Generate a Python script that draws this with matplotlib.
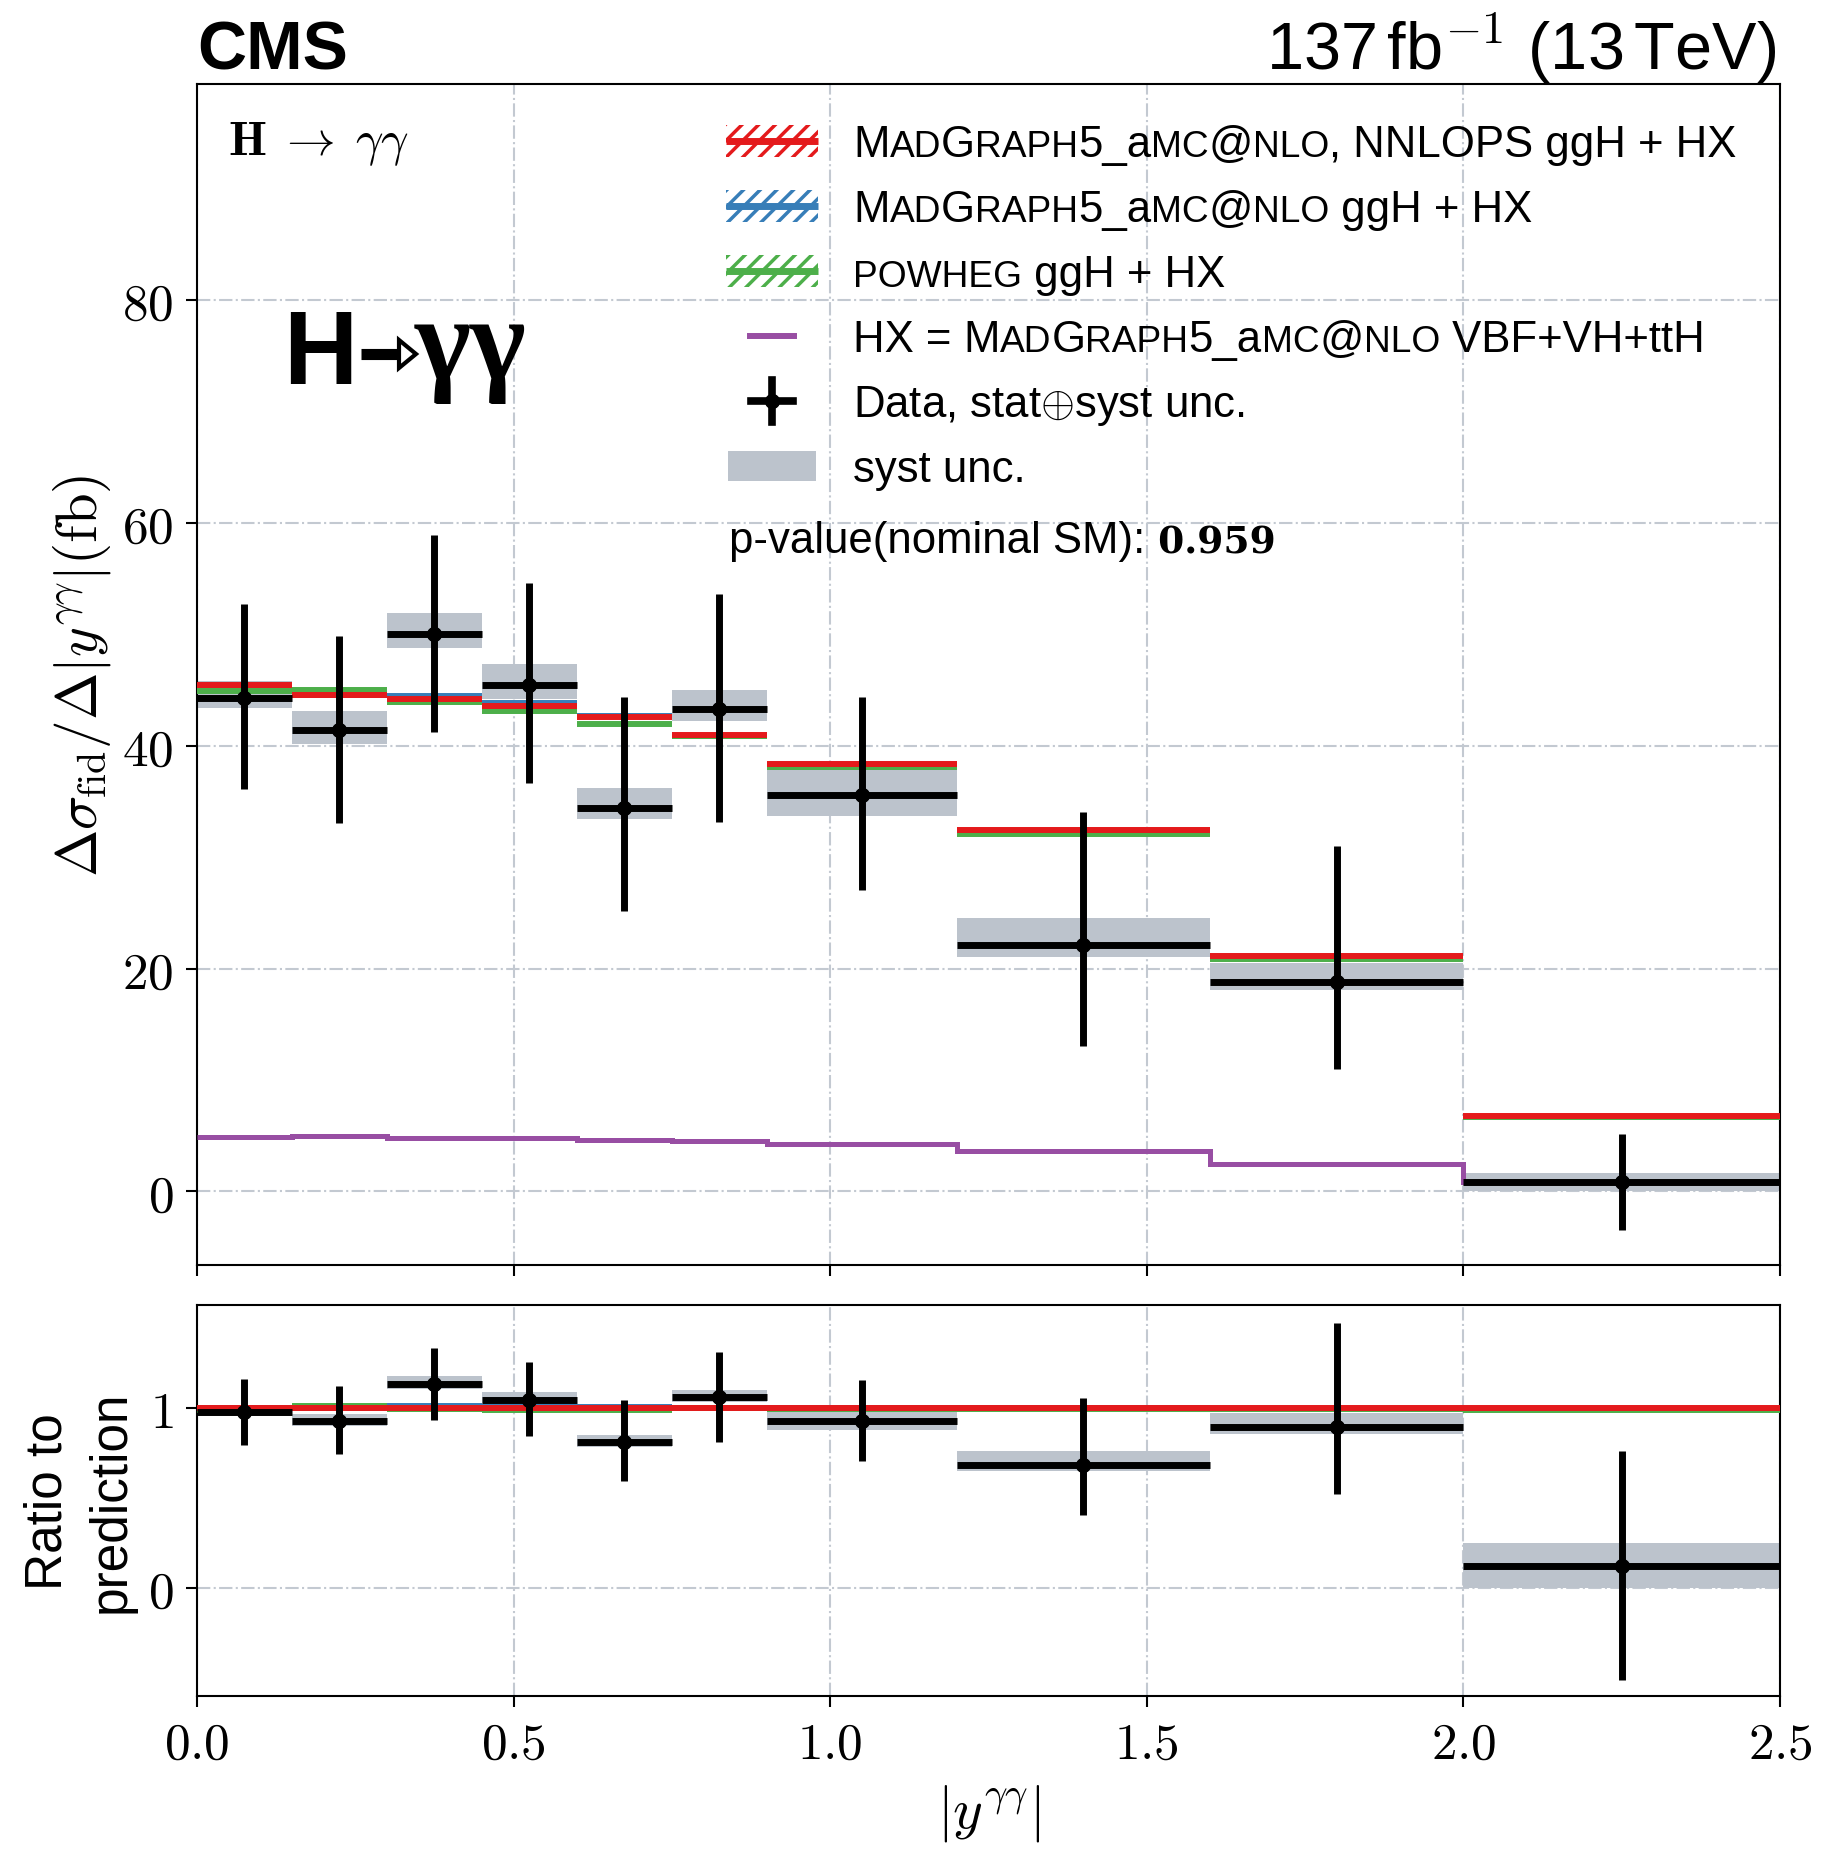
import numpy as np
import matplotlib
matplotlib.use('Agg')
import matplotlib.pyplot as plt
from matplotlib.patches import Rectangle, Polygon
from matplotlib.lines import Line2D
from matplotlib.ticker import FixedLocator, FuncFormatter

plt.rcParams['font.family'] = ['Liberation Sans', 'DejaVu Sans']
plt.rcParams['mathtext.fontset'] = 'cm'
plt.rcParams['hatch.linewidth'] = 2.5

# |y_gg| binning
bin_edges = np.array([0.0, 0.15, 0.3, 0.45, 0.6, 0.75, 0.9, 1.2, 1.6, 2.0, 2.5])

# measured differential fiducial cross section (fb)
xs_data = np.array([44.3, 41.4, 50.0, 45.5, 34.4, 43.3, 35.6, 22.1, 18.8, 0.82])
tot_up = np.array([8.4, 8.5, 8.95, 9.1, 10.0, 10.3, 8.8, 12.0, 12.2, 4.3])
tot_dn = np.array([8.2, 8.35, 8.75, 8.8, 9.2, 10.1, 8.5, 9.0, 7.8, 4.27])
syst_up = np.array([1.5, 1.76, 1.91, 1.85, 1.79, 1.73, 2.36, 2.45, 1.7, 0.86])
syst_dn = np.array([0.9, 1.22, 1.25, 1.34, 0.99, 1.04, 1.88, 1.06, 0.74, 0.82])

# theory predictions (fb)
pred_nnlops = np.array([45.5, 44.6, 44.2, 43.55, 42.6, 40.96, 38.4, 32.4, 21.1, 6.74])
pred_mg5 = np.array([45.5, 44.6, 44.5, 43.8, 42.7, 40.9, 38.3, 32.3, 21.0, 6.7])
pred_powheg = np.array([44.9, 45.0, 43.9, 43.1, 41.97, 40.9, 38.1, 32.1, 20.9, 6.65])
pred_hx = np.array([4.9, 5.0, 4.8, 4.8, 4.6, 4.5, 4.25, 3.6, 2.5, 0.85])

p_value = 0.959

C_NNLOPS = '#e41a1c'
C_MG5 = '#377eb8'
C_POWHEG = '#4daf4a'
C_HX = '#984ea3'
C_SYST = '#bcc3cc'
C_GRID = '#c3c9d1'

W, H = 1845, 1858
fig = plt.figure(figsize=(W / 100, H / 100), dpi=100)

# axes boxes in pixels: left, right, top, bottom
MAIN = (197, 1780, 85, 1266)
RAT = (197, 1780, 1306, 1697)


def box(b):
    l, r, t, bt = b
    return [l / W, 1 - bt / H, (r - l) / W, (bt - t) / H]


ax = fig.add_axes(box(MAIN))
axr = fig.add_axes(box(RAT))


def to_ax(px, py, b=MAIN):
    l, r, t, bt = b
    return ((px - l) / (r - l), (bt - py) / (bt - t))


def draw_panel(a, data, up, dn, sup, sdn, preds, hx=None):
    lo, hi = bin_edges[:-1], bin_edges[1:]
    centers = 0.5 * (lo + hi)
    a.bar(centers, sup + sdn, bottom=data - sdn, width=hi - lo,
          color=C_SYST, lw=0, zorder=2)
    if hx is not None:
        a.stairs(hx, bin_edges, baseline=None, color=C_HX, lw=3.6, zorder=3)
    for vals, col in preds:
        a.hlines(vals, lo, hi, colors=col, lw=4.3, zorder=4)
    a.hlines(data, lo, hi, colors='k', lw=5, zorder=5)
    a.errorbar(centers, data, yerr=[dn, up], fmt='o', color='k', ms=10,
               elinewidth=5, capsize=0, zorder=6)


draw_panel(ax, xs_data, tot_up, tot_dn, syst_up, syst_dn,
           [(pred_mg5, C_MG5), (pred_powheg, C_POWHEG), (pred_nnlops, C_NNLOPS)],
           hx=pred_hx)

# ratio to the nominal (NNLOPS) prediction
ref = pred_nnlops
draw_panel(axr, xs_data / ref, tot_up / ref, tot_dn / ref, syst_up / ref, syst_dn / ref,
           [(pred_mg5 / ref, C_MG5), (pred_powheg / ref, C_POWHEG), (pred_nnlops / ref, C_NNLOPS)])

for a in (ax, axr):
    a.set_xlim(0, 2.5)
    a.xaxis.set_major_locator(FixedLocator([0, 0.5, 1.0, 1.5, 2.0, 2.5]))
    a.tick_params(direction='out', length=8, width=1.5, labelsize=37, pad=9,
                  top=False, right=False)
    a.grid(True, ls='-.', color=C_GRID, lw=1.5)
    a.set_axisbelow(True)
    for s in a.spines.values():
        s.set_linewidth(1.5)

ax.set_ylim(-6.6, 99.4)
ax.yaxis.set_major_locator(FixedLocator([0, 20, 40, 60, 80]))
ax.yaxis.set_major_formatter(FuncFormatter(lambda v, p: f'${v:g}$'))
ax.tick_params(labelbottom=False)

axr.set_ylim(-0.6, 1.57)
axr.yaxis.set_major_locator(FixedLocator([0, 1]))
axr.yaxis.set_major_formatter(FuncFormatter(lambda v, p: f'${v:g}$'))
axr.xaxis.set_major_formatter(FuncFormatter(lambda v, p: f'${v:.1f}$'))

ax.set_ylabel(r'$\Delta\sigma_{\rm fid}/\Delta|y^{\gamma\gamma}|({\rm fb})$', fontsize=41)
ax.yaxis.set_label_coords(-0.053, 0.5)
axr.set_ylabel('Ratio to\nprediction', fontsize=37, linespacing=1.35)
axr.yaxis.set_label_coords(-0.039, 0.5)
axr.set_xlabel(r'$|y^{\gamma\gamma}|$', fontsize=41)
axr.xaxis.set_label_coords(0.5, -0.22)

# header
fig.text(197 / W, 1 - 70 / H, 'CMS', fontsize=49, fontweight='bold', va='baseline')
fig.text(1776 / W, 1 - 70 / H, r'137$\,$fb$^{-1}$ (13$\,$TeV)', fontsize=48,
         ha='right', va='baseline')

# channel tag and logo
ax.text(*to_ax(228, 155), r'$\mathbf{H}\;\rightarrow\;\gamma\gamma$', fontsize=35,
        va='baseline', transform=ax.transAxes)
ax.text(*to_ax(283, 384), 'H', fontsize=74, fontweight='bold', va='baseline',
        transform=ax.transAxes)
x0, yy = to_ax(361, 355)
x1, _ = to_ax(399, 355)
ax.add_line(Line2D([x0, x1], [yy, yy], lw=8, color='k', solid_capstyle='butt',
                   transform=ax.transAxes))
ax.add_patch(Polygon([to_ax(399, 341), to_ax(416, 355), to_ax(399, 369)], closed=True,
                     facecolor='white', edgecolor='k', lw=3, transform=ax.transAxes,
                     zorder=7))
ax.text(*to_ax(415, 379), 'γγ', fontsize=86, fontweight='bold',
        family=['Liberation Serif', 'DejaVu Serif'], va='baseline', transform=ax.transAxes)

# legend, drawn by hand to get the small caps
renderer = fig.canvas.get_renderer()
FS = 31.5
SC = 0.85


def draw_chunks(px, py, chunks):
    x, y = to_ax(px, py)
    for chunk in chunks:
        s, scale = chunk[:2]
        kw = chunk[2] if len(chunk) > 2 else {}
        t = ax.text(x, y, s, fontsize=FS * scale, va='baseline', ha='left',
                    transform=ax.transAxes, zorder=8, **kw)
        bb = t.get_window_extent(renderer=renderer)
        x = ax.transAxes.inverted().transform((bb.x1, bb.y0))[0]


mg5 = [('M', 1), ('AD', SC), ('G', 1), ('RAPH', SC), ('5_a', 1), ('MC', SC), ('@', 1), ('NLO', SC)]
labels = [
    mg5 + [(', NNLOPS ggH + HX', 1)],
    mg5 + [(' ggH + HX', 1)],
    [('POWHEG', SC), (' ggH + HX', 1)],
    [('HX = ', 1)] + mg5 + [(' VBF+VH+ttH', 1)],
    [(r'Data, stat$\oplus$syst unc.', 1)],
    [('syst unc.', 1)],
]
rows_y = [142, 207, 272, 337, 402, 467]
HL, HR = 726, 818
AW = MAIN[1] - MAIN[0]
AH = MAIN[3] - MAIN[2]

for y, col in zip(rows_y[:3], [C_NNLOPS, C_MG5, C_POWHEG]):
    ax.add_patch(Rectangle(to_ax(HL, y + 15.5), (HR - HL) / AW, 31 / AH,
                           facecolor='none', edgecolor=col, hatch='//', lw=0,
                           transform=ax.transAxes, zorder=8))
    xa, ya = to_ax(HL, y)
    xb, _ = to_ax(HR, y)
    ax.add_line(Line2D([xa, xb], [ya, ya], lw=5, color=col, solid_capstyle='butt',
                       transform=ax.transAxes, zorder=9))

xa, ya = to_ax(750, rows_y[3])
xb, _ = to_ax(794, rows_y[3])
ax.add_line(Line2D([xa, xb], [ya, ya], lw=4.3, color=C_HX, transform=ax.transAxes, zorder=9))

xc, yc = to_ax(772, rows_y[4])
_, yt = to_ax(772, rows_y[4] - 21)
_, yb = to_ax(772, rows_y[4] + 21)
xl, _ = to_ax(751, rows_y[4])
xr, _ = to_ax(793, rows_y[4])
ax.add_line(Line2D([xc, xc], [yb, yt], lw=5.5, color='k', transform=ax.transAxes, zorder=9))
ax.add_line(Line2D([xl, xr], [yc, yc], lw=5.5, color='k', transform=ax.transAxes, zorder=9))
ax.add_line(Line2D([xc], [yc], marker='o', ms=10, color='k', transform=ax.transAxes, zorder=9))

ax.add_patch(Rectangle(to_ax(728, rows_y[5] + 15), 88 / AW, 30 / AH, facecolor=C_SYST,
                       lw=0, transform=ax.transAxes, zorder=8))

for y, chunks in zip(rows_y, labels):
    draw_chunks(853, y + 15.5, chunks)

draw_chunks(729, 538 + 15.5, [('p-value(nominal SM):', 1),
                              (' %.3f' % p_value, 0.86, {'family': 'DejaVu Serif', 'weight': 'bold'})])

fig.savefig('out.png', dpi=100)
